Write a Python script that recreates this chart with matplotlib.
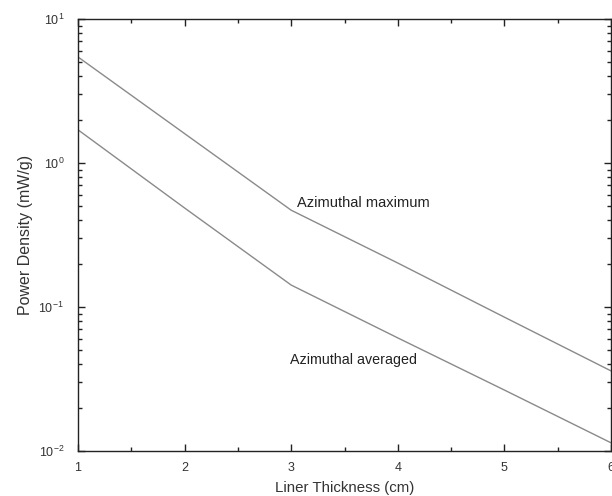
import matplotlib
matplotlib.use("Agg")
import matplotlib.pyplot as plt
from matplotlib.ticker import LogLocator, MultipleLocator, FixedLocator

plt.rcParams['font.family'] = ['Liberation Sans', 'DejaVu Sans']
plt.rcParams['mathtext.fontset'] = 'custom'
plt.rcParams['mathtext.rm'] = 'Liberation Sans'

thickness = [1, 2, 3, 4, 5, 6]
azimuthal_max = [5.45, 1.6, 0.47, 0.202, 0.085, 0.036]
azimuthal_avg = [1.7, 0.487, 0.142, 0.061, 0.0265, 0.0114]

fig = plt.figure(figsize=(6.12, 4.96), dpi=100)
ax = fig.add_axes([78/612, 1 - 451/496, 533/612, 432/496])

line_color = '#8a8a8a'
ax.plot(thickness, azimuthal_max, color=line_color, lw=1.0)
ax.plot(thickness, azimuthal_avg, color=line_color, lw=1.0)

ax.set_yscale('log')
ax.set_xlim(1, 6)
ax.set_ylim(1e-2, 1e1)

ax.xaxis.set_major_locator(FixedLocator(thickness))
ax.xaxis.set_minor_locator(MultipleLocator(0.5))
ax.yaxis.set_major_locator(LogLocator(base=10, numticks=10))
ax.yaxis.set_minor_locator(LogLocator(base=10, subs=range(2, 10), numticks=10))

ax.tick_params(which='both', direction='in', top=True, right=True,
               labelsize=9, color='#222222', labelcolor='#333333')
ax.tick_params(which='major', length=5, width=1)
ax.tick_params(which='minor', length=3, width=1)
ax.tick_params(axis='x', pad=8)
ax.tick_params(axis='y', pad=10)

for s in ax.spines.values():
    s.set_linewidth(1.0)
    s.set_color('#222222')

ax.text(3.05, 0.527, 'Azimuthal maximum', fontsize=10.5, color='#222222',
        ha='left', va='center')
ax.text(2.99, 0.043, 'Azimuthal averaged', fontsize=10.3, color='#222222',
        ha='left', va='center')

ax.set_xlabel('Liner Thickness (cm)', fontsize=10.8, color='#333333', labelpad=5)
ax.set_ylabel('Power Density (mW/g)', fontsize=11.5, color='#333333', labelpad=4)

fig.savefig('out.png', dpi=100)
